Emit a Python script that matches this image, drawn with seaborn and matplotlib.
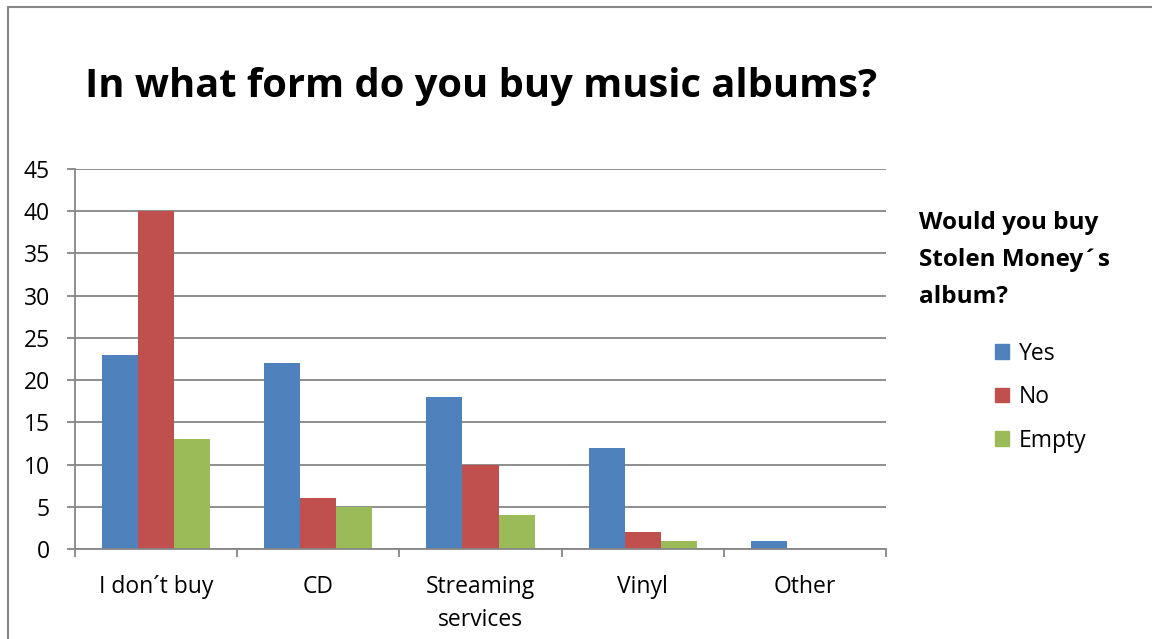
import matplotlib
matplotlib.use("Agg")
import matplotlib.pyplot as plt
import seaborn as sns
import pandas as pd
from matplotlib.lines import Line2D

categories = ["I don\u00b4t buy", "CD", "Streaming\nservices", "Vinyl", "Other"]
series_names = ["Yes", "No", "Empty"]
yes_vals = [23, 22, 18, 12, 1]
no_vals = [40, 6, 10, 2, 0]
empty_vals = [13, 5, 4, 1, 0]
colors = ["#4F81BD", "#C0504D", "#9BBB59"]
y_ticks = [0, 5, 10, 15, 20, 25, 30, 35, 40, 45]
legend_title_lines = ["Would you buy", "Stolen Money\u00b4s", "album?"]
title = "In what form do you buy music albums?"

rows = []
for name, vals in zip(series_names, [yes_vals, no_vals, empty_vals]):
    for c, v in zip(categories, vals):
        rows.append({"category": c, "series": name, "value": v})
df = pd.DataFrame(rows)

sns.set_theme(style="white")
plt.rcParams["font.family"] = ["Open Sans", "DejaVu Sans"]
plt.rcParams["text.color"] = "black"
plt.rcParams["xtick.color"] = "black"
plt.rcParams["ytick.color"] = "black"

fig = plt.figure(figsize=(11.52, 6.39), dpi=100)
ax = fig.add_axes([75/1152, 1-549/639, (886-75)/1152, (549-169)/639])

sns.barplot(data=df, x="category", y="value", hue="series", hue_order=series_names,
            palette=colors, width=0.667, gap=0, ax=ax, saturation=1, legend=True,
            edgecolor="none", linewidth=0)

ax.set_ylim(0, 45)
ax.set_xlim(-0.5, 4.5)
ax.set_yticks(y_ticks)
ax.set_yticklabels([str(t) for t in y_ticks], fontsize=16.5, color="black")
ax.yaxis.grid(True, color="#868686", linewidth=1.3)
ax.set_axisbelow(True)
ax.set_xlabel("")
ax.set_ylabel("")

for s in ["top", "right"]:
    ax.spines[s].set_visible(False)
for s in ["left", "bottom"]:
    ax.spines[s].set_color("#868686")
    ax.spines[s].set_linewidth(1.3)

ax.tick_params(axis="y", which="major", left=True, length=6, width=1.3, color="#868686",
               labelcolor="black", pad=12)
ax.set_xticks(range(len(categories)))
ax.set_xticklabels(categories, fontsize=16.5, color="black", linespacing=1.5)
ax.tick_params(axis="x", which="major", bottom=False, pad=13, labelcolor="black")
ax.set_xticks([i - 0.5 for i in range(len(categories) + 1)], minor=True)
ax.tick_params(axis="x", which="minor", bottom=True, length=6, width=1.3, color="#868686")

leg = ax.get_legend()
leg.remove()
handles = [plt.Rectangle((0, 0), 1, 1, color=c) for c in colors]
fig.legend(handles, series_names, loc="upper left", bbox_to_anchor=(974/1152, 1-321/639),
           frameon=False, fontsize=16.5, handlelength=0.62, handleheight=0.62,
           handletextpad=0.45, labelspacing=0.85)

for line, yb in zip(legend_title_lines, [229, 266, 303]):
    fig.text(919/1152, 1-yb/639, line, fontsize=17.5, fontweight="bold",
             ha="left", va="baseline", color="black")

fig.text(85/1152, 1-86/639, title, fontsize=28.7,
         fontweight="bold", ha="left", va="center", color="black")

# outer chart border
fig.add_artist(Line2D([8/1152, 8/1152], [0, 1-7/639], transform=fig.transFigure, color="#868686", lw=1.5))
fig.add_artist(Line2D([8/1152, 1], [1-7/639, 1-7/639], transform=fig.transFigure, color="#868686", lw=1.5))

fig.savefig("out.png", dpi=100)
